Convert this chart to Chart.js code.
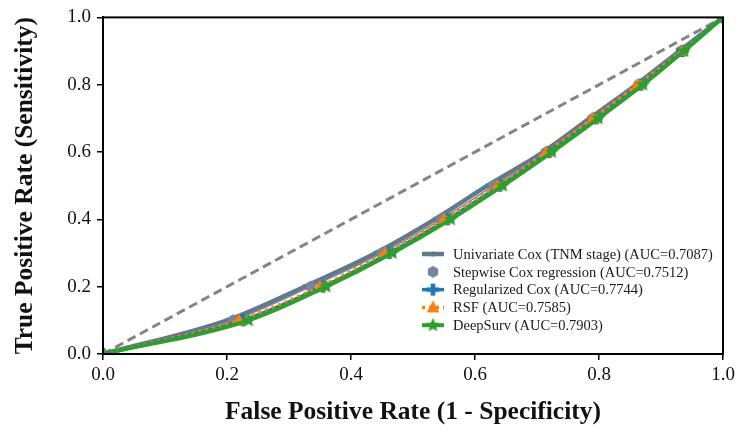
<!DOCTYPE html>
<html>
<head>
<meta charset="utf-8">
<script src="https://cdn.jsdelivr.net/npm/chart.js@4.4.1/dist/chart.umd.min.js"></script>
<style>
  html, body { margin: 0; padding: 0; background: #fff; }
  #wrap { width: 739px; height: 432px; }
</style>
</head>
<body>
<div id="wrap"><canvas id="roc" width="739" height="432"></canvas></div>
<script>
// sensitivity levels shared by all curves
const tpr = [0, 0.1, 0.2, 0.3, 0.4, 0.5, 0.6, 0.7, 0.8, 0.9, 1.0];
// false positive rate per model
const fprUnivariate = [0, 0.200, 0.325, 0.440, 0.535, 0.620, 0.710, 0.785, 0.860, 0.930, 1];
const fprStepwise   = [0, 0.210, 0.335, 0.450, 0.545, 0.630, 0.715, 0.790, 0.864, 0.932, 1];
const fprRegular    = [0, 0.226, 0.355, 0.462, 0.556, 0.640, 0.720, 0.796, 0.868, 0.935, 1];
const fprRSF        = [0, 0.219, 0.350, 0.455, 0.550, 0.636, 0.715, 0.790, 0.862, 0.934, 1];
const fprDeepSurv   = [0, 0.235, 0.360, 0.467, 0.561, 0.645, 0.724, 0.799, 0.871, 0.937, 1];
const labels = [
    'Univariate Cox (TNM stage) (AUC=0.7087)',
    'Stepwise Cox regression (AUC=0.7512)',
    'Regularized Cox (AUC=0.7744)',
    'RSF (AUC=0.7585)',
    'DeepSurv (AUC=0.7903)',
];
const xTicks = [0, 0.2, 0.4, 0.6, 0.8, 1.0];
const yTicks = [0, 0.2, 0.4, 0.6, 0.8, 1.0];

function pts(xs) {
    return xs.map((x, i) => ({x: x, y: tpr[i]}));
}

// little canvas markers, matplotlib-ish
function marker(shape, color, r) {
    const c = document.createElement('canvas');
    const s = Math.ceil(r * 2 + 2);
    c.width = s; c.height = s;
    const g = c.getContext('2d');
    const cx = s / 2, cy = s / 2;
    g.fillStyle = color;
    g.beginPath();
    if (shape == 'hex') {
        for (let k = 0; k < 6; k++) {
            const a = Math.PI / 6 + k * Math.PI / 3;
            g.lineTo(cx + r * Math.cos(a), cy + r * Math.sin(a));
        }
    } else if (shape == 'star') {
        for (let k = 0; k < 10; k++) {
            const rr = k % 2 ? r * 0.45 : r;
            const a = -Math.PI / 2 + k * Math.PI / 5;
            g.lineTo(cx + rr * Math.cos(a), cy + rr * Math.sin(a));
        }
    } else if (shape == 'plus') {
        const w = r * 0.38;
        g.rect(cx - r, cy - w, 2 * r, 2 * w);
        g.rect(cx - w, cy - r, 2 * w, 2 * r);
    } else if (shape == 'tri') {
        g.moveTo(cx, cy - r);
        g.lineTo(cx + r * 0.9, cy + r * 0.7);
        g.lineTo(cx - r * 0.9, cy + r * 0.7);
    } else {
        g.arc(cx, cy, r, 0, Math.PI * 2);
    }
    g.closePath();
    g.fill();
    return c;
}

const cUni = '#62798b', cStep = '#75869a', cReg = '#1f77b4', cRSF = '#ff7f0e', cDeep = '#2ca02c';
const mUni = marker('dot', cUni, 2.5);
const mStep = marker('hex', cStep, 6);
const mReg = marker('plus', cReg, 6);
const mRSF = marker('tri', cRSF, 7);
const mDeep = marker('star', cDeep, 7.5);

const datasets = [
    {label: labels[0], data: pts(fprUnivariate), borderColor: cUni, borderWidth: 4.5,
     pointStyle: mUni, order: 4, legendMarker: mUni},
    {label: labels[1], data: pts(fprStepwise), borderColor: cStep, borderWidth: 1.5,
     pointStyle: mStep, order: 3, legendMarker: mStep, legendNoLine: true},
    {label: labels[2], data: pts(fprRegular), borderColor: cReg, borderWidth: 3.5,
     pointStyle: mReg, order: 2, legendMarker: mReg},
    {label: labels[3], data: pts(fprRSF), borderColor: cRSF, borderWidth: 3.5, borderDash: [3, 4],
     pointStyle: mRSF, order: 1, legendMarker: mRSF},
    {label: labels[4], data: pts(fprDeepSurv), borderColor: cDeep, borderWidth: 4,
     pointStyle: mDeep, order: 0, legendMarker: mDeep},
    {label: 'chance', data: [{x: 0, y: 0}, {x: 1, y: 1}], borderColor: '#858585', borderWidth: 3,
     borderDash: [9, 5], pointRadius: 0, order: 5, isDiag: true},
];
datasets.forEach(d => {
    d.showLine = true;
    d.fill = false;
    d.backgroundColor = d.borderColor;
    d.cubicInterpolationMode = 'monotone';
});

// top and right spines
const frame = {
    id: 'frame',
    afterDraw(chart) {
        const a = chart.chartArea, g = chart.ctx;
        g.save();
        g.strokeStyle = '#000';
        g.lineWidth = 2;
        g.strokeRect(a.left, a.top, a.right - a.left, a.bottom - a.top);
        g.restore();
    }
};

// legend inside the lower right corner
const innerLegend = {
    id: 'innerLegend',
    afterDraw(chart) {
        const g = chart.ctx;
        const x0 = 422, x1 = 444, tx = 453;
        let y = 254;
        g.save();
        g.font = '14.5px "Liberation Serif", "DejaVu Serif", serif';
        g.textBaseline = 'middle';
        g.fillStyle = '#1a1a1a';
        chart.data.datasets.forEach(d => {
            if (d.isDiag) return;
            if (!d.legendNoLine) {
                g.strokeStyle = d.borderColor;
                g.lineWidth = d.borderWidth;
                g.setLineDash(d.borderDash || []);
                g.beginPath();
                g.moveTo(x0, y);
                g.lineTo(x1, y);
                g.stroke();
                g.setLineDash([]);
            }
            const m = d.legendMarker;
            g.drawImage(m, (x0 + x1) / 2 - m.width / 2, y - m.height / 2);
            g.fillText(d.label, tx, y + 1);
            y += 17.8;
        });
        g.restore();
    }
};

const serif = '"Liberation Serif", "DejaVu Serif", serif';

new Chart(document.getElementById('roc'), {
    type: 'scatter',
    data: {datasets: datasets},
    options: {
        responsive: false,
        animation: false,
        layout: {padding: {top: 10, right: 16, left: 0, bottom: 0}},
        plugins: {legend: {display: false}, tooltip: {enabled: false}},
        scales: {
            x: {
                type: 'linear', min: 0, max: 1,
                afterBuildTicks: s => { s.ticks = xTicks.map(v => ({value: v})); },
                afterFit: s => { s.height = 78; },
                ticks: {color: '#111', font: {family: serif, size: 19}, padding: 4,
                        callback: v => v.toFixed(1), maxRotation: 0},
                grid: {drawOnChartArea: false, drawTicks: true, tickLength: 6, color: '#000', lineWidth: 1.5},
                border: {display: true, color: '#000', width: 2},
                title: {display: true, text: 'False Positive Rate (1 - Specificity)', color: '#111',
                        font: {family: serif, size: 25.5, weight: 'bold'}, padding: {top: 8}},
            },
            y: {
                type: 'linear', min: 0, max: 1,
                afterBuildTicks: s => { s.ticks = yTicks.map(v => ({value: v})); },
                afterFit: s => { s.width = 103; },
                ticks: {color: '#111', font: {family: serif, size: 19}, padding: 6,
                        callback: v => v.toFixed(1)},
                grid: {drawOnChartArea: false, drawTicks: true, tickLength: 6, color: '#000', lineWidth: 1.5},
                border: {display: true, color: '#000', width: 2},
                title: {display: true, text: 'True Positive Rate (Sensitivity)', color: '#111',
                        font: {family: serif, size: 25.5, weight: 'bold'}, padding: {top: 10, bottom: 8}},
            },
        },
    },
    plugins: [frame, innerLegend],
});
</script>
</body>
</html>
